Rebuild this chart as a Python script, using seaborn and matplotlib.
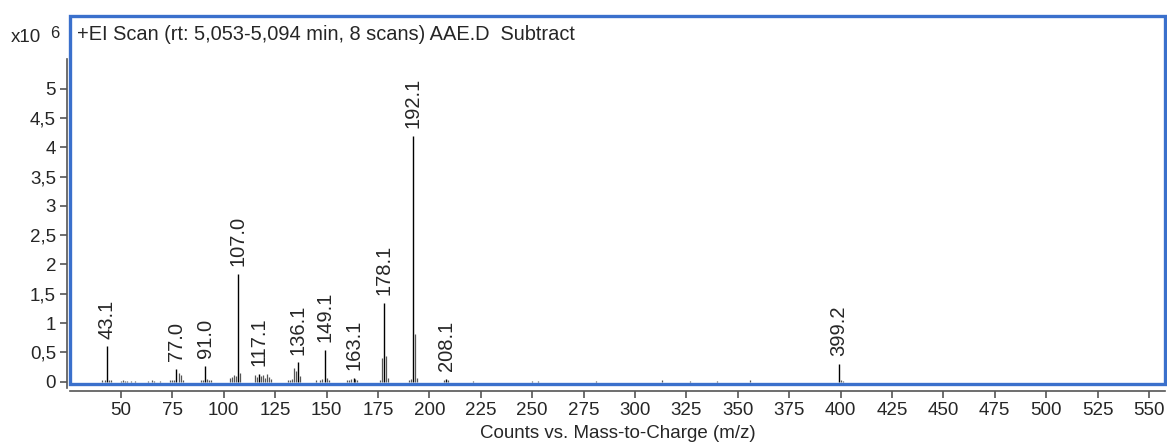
import matplotlib
matplotlib.use("Agg")
import matplotlib.pyplot as plt
import seaborn as sns
from matplotlib.patches import Rectangle
from matplotlib.ticker import FuncFormatter

# labelled peaks (m/z, counts x10^6)
label_mz = [43.1, 77.0, 91.0, 107.0, 117.1, 136.1, 149.1, 163.1, 178.1, 192.1, 208.1, 399.2]
label_int = [0.60, 0.22, 0.27, 1.84, 0.13, 0.33, 0.54, 0.07, 1.35, 4.19, 0.05, 0.30]

# minor peaks
minor_mz = [41, 42, 44, 45, 50, 51, 52, 53, 55, 57, 63, 65, 66, 69, 74, 75, 76, 78, 79, 80,
            89, 90, 92, 93, 94, 103, 104, 105, 106, 108, 115, 116, 118, 119, 120, 121, 122, 123,
            131, 132, 133, 134, 135, 137, 145, 147, 148, 150, 151, 160, 161, 162, 164, 165,
            176, 177, 179, 180, 190, 191, 193, 194, 207, 209, 221, 250, 253, 281, 313, 327,
            340, 356, 400, 401]
minor_int = [0.02, 0.03, 0.03, 0.02, 0.015, 0.02, 0.015, 0.01, 0.015, 0.01, 0.015, 0.02, 0.015,
             0.01, 0.02, 0.02, 0.03, 0.14, 0.12, 0.02,
             0.02, 0.03, 0.05, 0.03, 0.02, 0.06, 0.08, 0.11, 0.09, 0.15, 0.12, 0.08, 0.09, 0.12,
             0.07, 0.13, 0.08, 0.04,
             0.02, 0.03, 0.04, 0.23, 0.18, 0.10, 0.02, 0.03, 0.04, 0.07, 0.03, 0.02, 0.03, 0.05,
             0.04, 0.02,
             0.03, 0.41, 0.44, 0.07, 0.02, 0.04, 0.82, 0.07, 0.03, 0.02, 0.01, 0.01, 0.01, 0.015,
             0.02, 0.01, 0.01, 0.02, 0.03, 0.01]

x_ticks = list(range(50, 551, 25))
y_ticks = [0, 0.5, 1, 1.5, 2, 2.5, 3, 3.5, 4, 4.5, 5]
title = "+EI Scan (rt: 5,053-5,094 min, 8 scans) AAE.D  Subtract"

sns.set_theme(style="ticks")
plt.rcParams["font.family"] = ["Liberation Sans", "DejaVu Sans"]

fig = plt.figure(figsize=(11.67, 4.42), dpi=100)
ax = fig.add_axes([70 / 1167, 58 / 442, 1095 / 1167, 368 / 442])

ax.vlines(minor_mz, 0, minor_int, color="#555555", lw=0.9)
ax.vlines(label_mz, 0, label_int, color="black", lw=1.0)
for mz, h in zip(label_mz, label_int):
    ax.annotate(f"{mz:.1f}", (mz, h), xytext=(0, 5.5), textcoords="offset points",
                rotation=90, ha="center", va="bottom", fontsize=14.5)

ax.set_xlim(25.2, 557.8)
ax.set_ylim(-0.04, 6.24)
ax.set_xticks(x_ticks)
ax.set_yticks(y_ticks)
ax.yaxis.set_major_formatter(FuncFormatter(lambda v, p: f"{v:g}".replace(".", ",")))
ax.tick_params(labelsize=13.5, color="#555555", length=5, width=1.2, pad=3)

for s in ["top", "right"]:
    ax.spines[s].set_visible(False)
ax.spines["left"].set_position(("outward", 2))
ax.spines["left"].set_bounds(-0.1, 5.5)
ax.spines["bottom"].set_position(("outward", 5))
for s in ["left", "bottom"]:
    ax.spines[s].set_color("#555555")
    ax.spines[s].set_linewidth(1.2)

ax.add_patch(Rectangle((0, 0), 1, 1, transform=ax.transAxes, fill=False,
                       ec="#3a70cc", lw=2.4, clip_on=False, zorder=5))

ax.text(0.006, 0.95, title, transform=ax.transAxes, fontsize=14.4, va="center", ha="left")
ax.set_xlabel("Counts vs. Mass-to-Charge (m/z)", fontsize=13.5, labelpad=4)
fig.text(11 / 1167, 1 - 38 / 442, "x10", fontsize=13.5, va="center", ha="left")
fig.text(50 / 1167, 1 - 33 / 442, "6", fontsize=12, va="center", ha="left")

fig.savefig("out.png", dpi=100)
